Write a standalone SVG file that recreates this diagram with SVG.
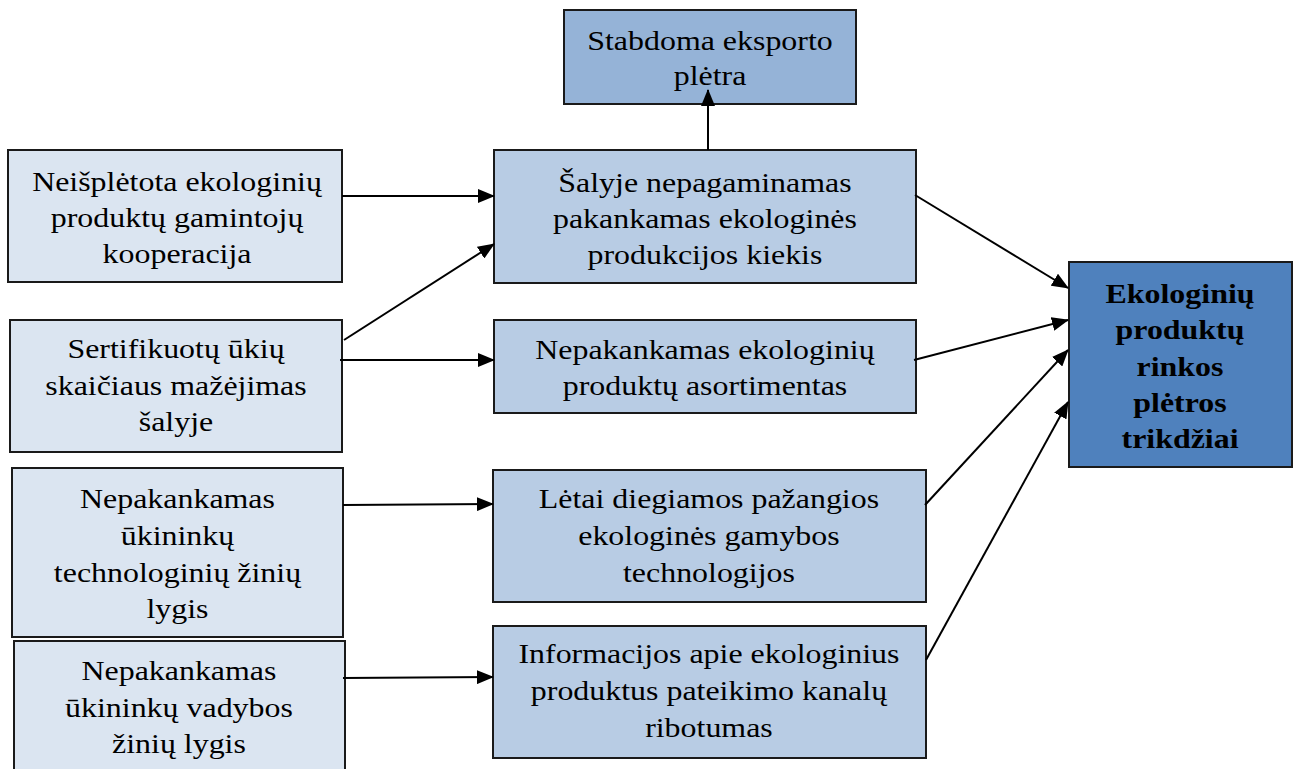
<svg xmlns="http://www.w3.org/2000/svg" width="1298" height="769" viewBox="0 0 1298 769">
<defs>
<style>
.box{stroke:#1a1a1a;stroke-width:2}
.l{fill:#dbe5f1}
.m{fill:#b8cce4}
.t{fill:#95b3d7}
.r{fill:#4f81bd}
</style>
<marker id="arrowhead" viewBox="0 0 17 14" refX="16" refY="7" markerWidth="17" markerHeight="14" markerUnits="userSpaceOnUse" orient="auto">
<path d="M0,0 L17,7 L0,14 z" fill="#000"/>
</marker>
</defs>
<rect width="1298" height="769" fill="#fff"/>
<g font-family="'Liberation Serif', 'Times New Roman', serif" font-size="28px" fill="#000" text-anchor="middle">
<g id="n-export">
<rect class="box t" x="564" y="10" width="292" height="94"/>
<g transform="scale(1.14,1)">
<text x="622.8" y="50">Stabdoma eksporto</text>
<text x="622.8" y="85">plėtra</text>
</g>
</g>
<g id="n-coop">
<rect class="box l" x="8" y="150" width="334" height="132"/>
<g transform="scale(1.14,1)">
<text x="155.3" y="191">Neišplėtota ekologinių</text>
<text x="155.3" y="227">produktų gamintojų</text>
<text x="155.3" y="263">kooperacija</text>
</g>
</g>
<g id="n-cert">
<rect class="box l" x="10" y="320" width="332" height="132"/>
<g transform="scale(1.14,1)">
<text x="154.4" y="358">Sertifikuotų ūkių</text>
<text x="154.4" y="395">skaičiaus mažėjimas</text>
<text x="154.4" y="431">šalyje</text>
</g>
</g>
<g id="n-tech">
<rect class="box l" x="12" y="468" width="331" height="169"/>
<g transform="scale(1.14,1)">
<text x="155.7" y="508">Nepakankamas</text>
<text x="155.7" y="545">ūkininkų</text>
<text x="155.7" y="582">technologinių žinių</text>
<text x="155.7" y="618">lygis</text>
</g>
</g>
<g id="n-mgmt">
<rect class="box l" x="14" y="641" width="331" height="140"/>
<g transform="scale(1.14,1)">
<text x="157" y="680">Nepakankamas</text>
<text x="157" y="717">ūkininkų vadybos</text>
<text x="157" y="753">žinių lygis</text>
</g>
</g>
<g id="n-qty">
<rect class="box m" x="494" y="150" width="422" height="133"/>
<g transform="scale(1.14,1)">
<text x="618.4" y="192">Šalyje nepagaminamas</text>
<text x="618.4" y="228">pakankamas ekologinės</text>
<text x="618.4" y="264">produkcijos kiekis</text>
</g>
</g>
<g id="n-assort">
<rect class="box m" x="494" y="320" width="422" height="93"/>
<g transform="scale(1.14,1)">
<text x="618.4" y="359">Nepakankamas ekologinių</text>
<text x="618.4" y="395">produktų asortimentas</text>
</g>
</g>
<g id="n-slowtech">
<rect class="box m" x="493" y="470" width="433" height="132"/>
<g transform="scale(1.14,1)">
<text x="621.9" y="508">Lėtai diegiamos pažangios</text>
<text x="621.9" y="545">ekologinės gamybos</text>
<text x="621.9" y="582">technologijos</text>
</g>
</g>
<g id="n-info">
<rect class="box m" x="493" y="626" width="433" height="132"/>
<g transform="scale(1.14,1)">
<text x="621.9" y="663">Informacijos apie ekologinius</text>
<text x="621.9" y="700">produktus pateikimo kanalų</text>
<text x="621.9" y="737">ribotumas</text>
</g>
</g>
<g id="n-main" font-weight="bold">
<rect class="box r" x="1069" y="262" width="223" height="205"/>
<g transform="scale(1.14,1)">
<text x="1035.1" y="303">Ekologinių</text>
<text x="1035.1" y="339">produktų</text>
<text x="1035.1" y="376">rinkos</text>
<text x="1035.1" y="412">plėtros</text>
<text x="1035.1" y="448">trikdžiai</text>
</g>
</g>
</g>
<g id="connectors" stroke="#000" stroke-width="2" fill="none">
<path d="M708,150 L708,90" marker-end="url(#arrowhead)"/>
<path d="M342,196 L494,196" marker-end="url(#arrowhead)"/>
<path d="M344,340 L494,244" marker-end="url(#arrowhead)"/>
<path d="M340,360 L494,360" marker-end="url(#arrowhead)"/>
<path d="M343,505 L493,504" marker-end="url(#arrowhead)"/>
<path d="M343,678 L493,677" marker-end="url(#arrowhead)"/>
<path d="M915,195 L1068,288" marker-end="url(#arrowhead)"/>
<path d="M914,360 L1068,320" marker-end="url(#arrowhead)"/>
<path d="M925,505 L1068,350" marker-end="url(#arrowhead)"/>
<path d="M926,660 L1068,402" marker-end="url(#arrowhead)"/>
</g>
</svg>
